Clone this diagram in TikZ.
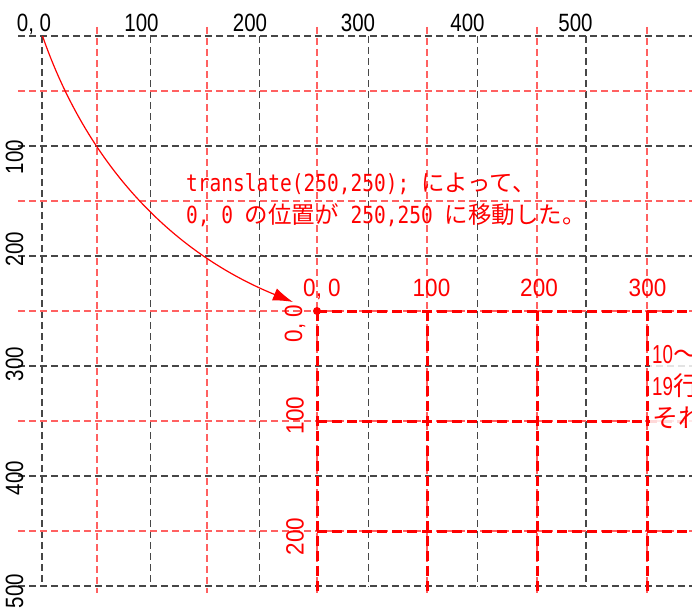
\documentclass[tikz,border=0pt]{standalone}
\usepackage{fontspec}
\setmainfont{Liberation Sans}
\newfontfamily\labfont[FakeStretch=0.82]{Liberation Sans}
\newfontfamily\redfont[FakeStretch=0.9]{Liberation Sans}
\newfontfamily\codefont[FakeStretch=0.83]{DejaVu Sans Mono}
\newfontfamily\jpfont{Noto Sans CJK JP}
\newfontfamily\notefont[FakeStretch=0.72]{Liberation Sans}
\usetikzlibrary{arrows.meta}
\begin{document}
\begin{tikzpicture}[x=1pt,y=-1pt,
  gridblack/.style={draw=black!72, line width=1.3pt, dash pattern=on 7pt off 4pt},
  gridred/.style={draw=red!62, line width=1.2pt, dash pattern=on 7pt off 4pt},
  gridthick/.style={draw=red, line width=3pt, dash pattern=on 10pt off 5pt},
  blab/.style={inner sep=0pt, text=black, font=\labfont\fontsize{25}{29}\selectfont},
  rlab/.style={inner sep=0pt, text=red, font=\redfont\fontsize{25}{29}\selectfont},
  codetxt/.style={inner sep=0pt, text=red, anchor=base west},
  notetxt/.style={inner sep=0pt, text=red, anchor=base west},
]
\useasboundingbox (0,0) rectangle (692,610);
\clip (0,0) rectangle (692,610);
\fill[white] (0,0) rectangle (692,610);
% original grid
\foreach \x in {42,150.8,259.6,368.4,477.2,586} \draw[gridblack] (\x,36) -- (\x,587);
\foreach \y in {36,146,256,366,476,586} \draw[gridblack] (18,\y) -- (692,\y);
\foreach \x in {97,207,317,427,537,647} \draw[gridred] (\x,27) -- (\x,593);
\foreach \y in {91,201,311,421,531} \draw[gridred] (18,\y) -- (692,\y);
% translated grid
\foreach \x in {317,427,537,647} \draw[gridthick] (\x,311) -- (\x,593);
\foreach \y in {311,421,531} \draw[gridthick] (317,\y) -- (692,\y);
% black labels
\node[blab, anchor=base] (bx0) at (34,32) {0, 0};
\node[blab, anchor=base] (bx1) at (141.5,32) {100};
\node[blab, anchor=base] (bx2) at (250,32) {200};
\node[blab, anchor=base] (bx3) at (358,32) {300};
\node[blab, anchor=base] (bx4) at (467.5,32) {400};
\node[blab, anchor=base] (bx5) at (575.5,32) {500};
\node[blab, rotate=90] (by1) at (14.5,157) {100};
\node[blab, rotate=90] (by2) at (14.5,249) {200};
\node[blab, rotate=90] (by3) at (14.5,364) {300};
\node[blab, rotate=90] (by4) at (14.5,478) {400};
\node[blab, rotate=90] (by5) at (14.5,591) {500};
% red labels
\node[rlab, anchor=base] (rx0) at (322,296) {0, 0};
\node[rlab, anchor=base] (rx1) at (431.5,296) {100};
\node[rlab, anchor=base] (rx2) at (539,296) {200};
\node[rlab, anchor=base] (rx3) at (647.5,296) {300};
\node[rlab, rotate=90] (ry0) at (295,323.5) {0, 0};
\node[rlab, rotate=90] (ry1) at (295,415.5) {100};
\node[rlab, rotate=90] (ry2) at (295,536.5) {200};
% origin dot
\node[circle, fill=red, inner sep=0pt, minimum size=8pt] (dot) at (317,311) {};
% explanation text
\node[codetxt] (note1) at (186,191) {\fontsize{23.5}{28}\selectfont{\codefont translate(250,250);\ }{\jpfont によって、}};
\node[codetxt] (note2) at (186,223) {\fontsize{23.5}{28}\selectfont{\codefont 0,\ 0\ }{\jpfont の位置が}{\codefont\ 250,250\ }{\jpfont に移動した。}};
% arrow
\coordinate (start) at (42.5,36);
\coordinate (tip) at (293,302);
\draw[red, line width=1.2pt, -{Latex[length=20pt,width=13pt]}] (start) .. controls (86.8,163.3) and (170.3,252) .. (tip);
% side note (cut off at the right edge, as in the reference)
\fill[white, opacity=0.85] (650,338) rectangle (692,433);
\node[notetxt] (side1) at (652,363) {\fontsize{26}{30}\selectfont{\notefont 10}{\jpfont 〜}};
\node[notetxt] (side2) at (652,395) {\fontsize{26}{30}\selectfont{\notefont 19}{\jpfont 行}};
\node[notetxt] (side3) at (652,427) {\fontsize{26}{30}\selectfont{\jpfont それ}};
\end{tikzpicture}
\end{document}
